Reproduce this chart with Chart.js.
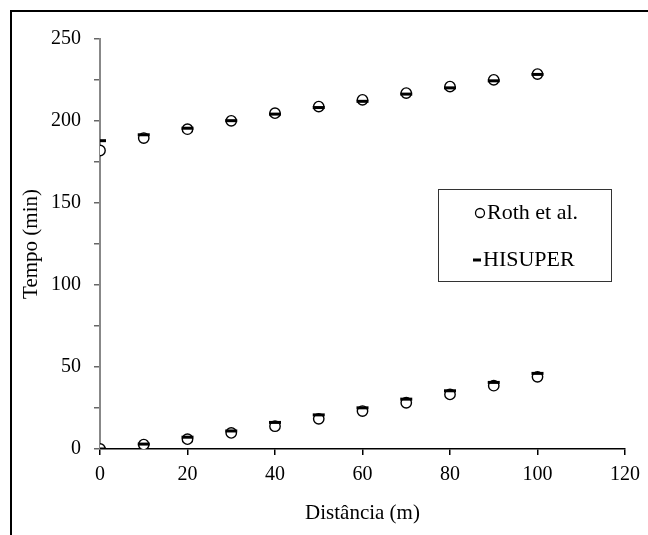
<!DOCTYPE html>
<html>
<head>
<meta charset="utf-8">
<script src="https://cdn.jsdelivr.net/npm/chart.js@4.4.0/dist/chart.umd.min.js"></script>
<style>
  body { margin: 0; background: #fff; }
  canvas { display: block; }
</style>
</head>
<body>
<canvas id="tempos" width="648" height="535"></canvas>
<script>
// distancia (m)
const distancia = [0, 10, 20, 30, 40, 50, 60, 70, 80, 90, 100];

// tempo (min), Roth et al.
const rothSuperior = [182, 189.6, 195, 200.1, 204.8, 208.8, 212.9, 217, 221, 225.1, 228.6];
const rothInferior = [0, 2.7, 6, 9.8, 13.9, 18.4, 23.1, 28.2, 33.3, 38.6, 44];

// tempo (min), HISUPER
const hisuperSuperior = [188, 191.6, 195.6, 200.2, 204.2, 208.2, 212, 216.4, 220.2, 224.5, 228.4];
const hisuperInferior = [0, 3, 7.2, 11, 16.2, 20.8, 25.1, 30.4, 35.5, 40.6, 46.1];

const serie = (ys) => ys.map((y, i) => ({ x: distancia[i], y: y }));

const familia = "'Liberation Serif', 'Times New Roman', serif";
Chart.defaults.font = { family: familia, size: 20 };
Chart.defaults.color = '#000';

// moldura externa + legenda desenhada dentro da area do grafico
const moldura = {
  id: 'moldura',
  afterDraw(chart) {
    const ctx = chart.ctx;
    ctx.save();
    ctx.strokeStyle = '#000';
    ctx.lineWidth = 2;
    ctx.strokeRect(11, 11, 700, 600);

    ctx.lineWidth = 1;
    ctx.strokeStyle = '#333';
    ctx.strokeRect(438.5, 189.5, 173, 92);

    ctx.font = '22px ' + familia;
    ctx.fillStyle = '#000';
    ctx.textBaseline = 'middle';
    ctx.fillText(chart.data.datasets[0].label, 487, 213);
    ctx.fillText(chart.data.datasets[1].label, 483, 260);

    ctx.beginPath();
    ctx.arc(480, 213, 4.5, 0, Math.PI * 2);
    ctx.fillStyle = '#fff';
    ctx.fill();
    ctx.lineWidth = 1.3;
    ctx.strokeStyle = '#000';
    ctx.stroke();

    ctx.beginPath();
    ctx.moveTo(473, 260);
    ctx.lineTo(481, 260);
    ctx.lineWidth = 3;
    ctx.stroke();
    ctx.restore();
  }
};

const grafico = new Chart(document.getElementById('tempos'), {
  type: 'scatter',
  data: {
    datasets: [
      {
        label: 'Roth et al.',
        data: serie(rothSuperior).concat(serie(rothInferior)),
        pointStyle: 'circle',
        pointRadius: 5.2,
        pointBackgroundColor: '#fff',
        pointBorderColor: '#000',
        pointBorderWidth: 1.4,
        order: 1
      },
      {
        label: 'HISUPER',
        data: serie(hisuperSuperior).concat(serie(hisuperInferior)),
        pointStyle: 'line',
        pointRadius: 6,
        pointBorderColor: '#000',
        pointBorderWidth: 3,
        order: 0
      }
    ]
  },
  options: {
    responsive: false,
    animation: false,
    devicePixelRatio: 1,
    layout: { padding: { left: 0, top: 39, right: 21, bottom: 0 } },
    plugins: {
      legend: { display: false },
      tooltip: { enabled: false }
    },
    scales: {
      x: {
        type: 'linear',
        min: 0,
        max: 120,
        afterFit: (s) => { s.height = 86; },
        border: { display: true, color: '#000', width: 1.5 },
        grid: { display: true, drawOnChartArea: false, drawTicks: true, tickLength: 6, color: '#000', lineWidth: 1.5 },
        ticks: { stepSize: 20, padding: 8, maxRotation: 0 },
        title: { display: true, text: 'Distância (m)', font: { size: 21 }, padding: { top: 0, bottom: 9 } }
      },
      y: {
        type: 'linear',
        min: 0,
        max: 250,
        afterFit: (s) => { s.width = 100; },
        border: { display: true, color: '#888', width: 2 },
        grid: { display: true, drawOnChartArea: false, drawTicks: true, tickLength: 6, color: '#666', lineWidth: 1.5 },
        ticks: {
          stepSize: 25,
          padding: 13,
          callback: (v) => (v % 50 === 0 ? v : '')
        },
        title: { display: true, text: 'Tempo (min)', font: { size: 21 }, padding: { top: 19, bottom: 0 } }
      }
    }
  },
  plugins: [moldura]
});
</script>
</body>
</html>
